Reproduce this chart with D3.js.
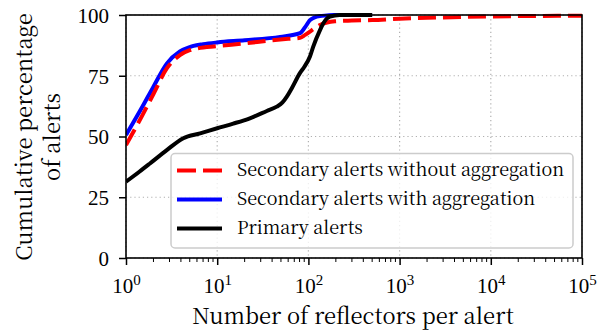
<!DOCTYPE html>
<html><head><meta charset="utf-8">
<script src="https://cdn.jsdelivr.net/npm/d3@7"></script>
<style>body{margin:0;background:#fff}svg{display:block}</style>
</head><body><svg id="c" width="604" height="333"></svg>
<script>
const redX = [1, 1.5, 2, 2.8, 3.9, 5, 5.9, 10, 20, 40, 60, 81, 92, 104, 120, 134, 160, 195, 300, 500, 1000, 3000, 10000, 30000, 100000];
const redY = [46.5, 58.5, 67.5, 78, 83.5, 85.5, 86.2, 87.2, 88.3, 89.6, 90.2, 90.6, 91.8, 93.2, 94.8, 95.9, 96.9, 97.4, 97.7, 97.9, 98.5, 99, 99.4, 99.6, 99.7];
const blueX = [1, 1.5, 2, 2.8, 3.9, 5, 5.5, 7, 10, 20, 49, 81, 92, 104, 115, 134, 160, 187, 250, 500];
const blueY = [50.6, 62, 70.5, 80, 85, 86.8, 87.3, 88, 88.7, 89.6, 91, 92.5, 95, 97.9, 98.9, 99.6, 99.8, 100, 100, 100];
const blackX = [1, 1.4, 1.83, 2.8, 4.25, 6.5, 10, 15, 22.8, 35, 45, 52, 58, 66, 81, 90, 104, 113, 134, 146, 172, 220, 500];
const blackY = [31.4, 35.5, 38.9, 44.4, 49.3, 51.3, 53.4, 55.3, 57.5, 60.5, 62.3, 64, 66.4, 70, 76.2, 78.6, 82.9, 87, 93.8, 96.6, 99.3, 100, 100];
const xTicks = [1, 10, 100, 1000, 10000, 100000];
const xTickExp = ["0", "1", "2", "3", "4", "5"];
const yTicks = [0, 25, 50, 75, 100];
const seriesNames = ["Secondary alerts without aggregation", "Secondary alerts with aggregation", "Primary alerts"];
const seriesColors = ["#ff0000", "#0000ff", "#000000"];

const FONT = "Noto Serif CJK SC";
const TFONT = "Liberation Serif";
const svg = d3.select("#c");
const L = 126, R = 582, T = 15, B = 258;
const x = d3.scaleLog().domain([1, 1e5]).range([L, R]);
const y = d3.scaleLinear().domain([0, 100]).range([B, T]);

const grid = svg.append("g").attr("stroke", "#b0b0b0").attr("stroke-width", 1.2).attr("stroke-dasharray", "1.2,3");
xTicks.forEach(t => grid.append("line").attr("x1", x(t)).attr("x2", x(t)).attr("y1", T).attr("y2", B));
yTicks.forEach(t => grid.append("line").attr("x1", L).attr("x2", R).attr("y1", y(t)).attr("y2", y(t)));

const line = d3.line().x(d => x(d[0])).y(d => y(d[1])).curve(d3.curveMonotoneX);
svg.append("clipPath").attr("id", "pc").append("rect").attr("x", L).attr("y", T - 3).attr("width", R - L).attr("height", B - T + 3);
const plot = svg.append("g").attr("clip-path", "url(#pc)");
plot.append("path").datum(blueX.map((v, i) => [v, blueY[i]])).attr("d", line).attr("fill", "none").attr("stroke", seriesColors[1]).attr("stroke-width", 4);
plot.append("path").datum(redX.map((v, i) => [v, redY[i]])).attr("d", line).attr("fill", "none").attr("stroke", seriesColors[0]).attr("stroke-width", 4).attr("stroke-dasharray", "18,7");
plot.append("path").datum(blackX.map((v, i) => [v, blackY[i]])).attr("d", line).attr("fill", "none").attr("stroke", seriesColors[2]).attr("stroke-width", 4);

const xAxis = d3.axisBottom(x).tickValues(xTicks).tickSize(7).tickFormat("");
const gx = svg.append("g").attr("transform", `translate(0,${B})`).call(xAxis).attr("font-family", TFONT);
const minor = [];
for (let d = 1; d < 1e5; d *= 10) for (let k = 2; k <= 9; k++) minor.push(d * k);
gx.selectAll(".minor").data(minor).enter().append("line").attr("x1", d => x(d)).attr("x2", d => x(d)).attr("y1", 0).attr("y2", 4).attr("stroke", "#000").attr("stroke-width", 1);
gx.select(".domain").remove();
gx.selectAll(".tick line").attr("stroke-width", 1.5);
const xl = gx.selectAll(".tick").append("text").attr("y", 35).attr("fill", "#000").attr("text-anchor", "middle").attr("font-family", TFONT).attr("font-size", 21);
xl.append("tspan").text("10");
xl.append("tspan").attr("dy", -8).attr("font-size", 15).text((d, i) => xTickExp[i]);

const yAxis = d3.axisLeft(y).tickValues(yTicks).tickSize(7).tickPadding(10);
const gy = svg.append("g").attr("transform", `translate(${L},0)`).call(yAxis).attr("font-family", TFONT).attr("font-size", 21);
gy.select(".domain").remove();
gy.selectAll(".tick line").attr("stroke-width", 1.5);
gy.selectAll(".tick text").attr("font-family", TFONT).attr("font-size", 21).attr("dy", "0.35em");

svg.append("rect").attr("x", L).attr("y", T).attr("width", R - L).attr("height", B - T).attr("fill", "none").attr("stroke", "#000").attr("stroke-width", 1.6);

const lg = svg.append("g");
lg.append("rect").attr("x", 171).attr("y", 153.5).attr("width", 402).attr("height", 94.5).attr("rx", 4).attr("fill", "#fff").attr("fill-opacity", 0.8).attr("stroke", "#cccccc").attr("stroke-width", 1.5);
const rowsY = [170.5, 199.5, 228.5];
seriesNames.forEach((n, i) => {
  const l = lg.append("line").attr("x1", 177).attr("x2", 222).attr("y1", rowsY[i]).attr("y2", rowsY[i]).attr("stroke", seriesColors[i]).attr("stroke-width", 4);
  if (i === 0) l.attr("stroke-dasharray", "19,7");
  lg.append("text").attr("x", 237).attr("y", rowsY[i]).attr("dy", "0.33em").attr("font-size", 18).attr("font-family", FONT).text(n);
});

svg.append("text").attr("x", (L + R) / 2 - 1).attr("y", 323.5).attr("text-anchor", "middle").attr("font-size", 22).attr("font-family", FONT).text("Number of reflectors per alert");
const yl = svg.append("text").attr("transform", "translate(0,137) rotate(-90)").attr("text-anchor", "middle").attr("font-size", 22).attr("font-family", FONT);
yl.append("tspan").attr("x", 0).attr("y", 32).text("Cumulative percentage");
yl.append("tspan").attr("x", 0).attr("y", 60).text("of alerts");
</script></body></html>
